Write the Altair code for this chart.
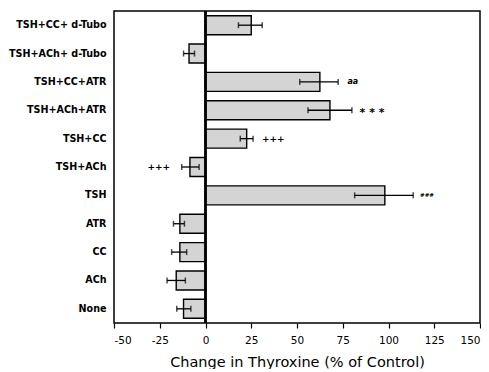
import altair as alt
import pandas as pd

categories = ["TSH+CC+ d-Tubo", "TSH+ACh+ d-Tubo", "TSH+CC+ATR", "TSH+ACh+ATR",
              "TSH+CC", "TSH+ACh", "TSH", "ATR", "CC", "ACh", "None"]
means = [25, -9, 62.5, 68, 22.5, -8.5, 98, -14, -14, -16, -12]
err_lo = [18, -12, 51.5, 56, 19, -13, 81.5, -17.5, -18.5, -21, -15.7]
err_hi = [31, -6, 72.5, 80, 26, -3.5, 113.5, -11.5, -10.3, -11, -8]

ann_cats = ["TSH+CC+ATR", "TSH+ACh+ATR", "TSH+CC", "TSH+ACh", "TSH"]
ann_x = [80.5, 91, 37, -25.5, 121]
ann_text = ["aa", "* * *", "+++", "+++", "###"]
ann_style = ["italic", "star", "plus", "plus", "hash"]

x_ticks = [-50, -25, 0, 25, 50, 75, 100, 125, 150]

df = pd.DataFrame({"cat": categories, "mean": means, "lo": err_lo, "hi": err_hi})
ann = pd.DataFrame({"cat": ann_cats, "x": ann_x, "text": ann_text, "style": ann_style})

FONT = "DejaVu Sans"

xscale = alt.Scale(domain=[-50, 150], nice=False, zero=False)
yscale = alt.Scale(domain=categories, paddingInner=0.33, paddingOuter=0.165)

xaxis = alt.Axis(values=x_ticks, title="Change in Thyroxine (% of Control)",
                 grid=False, domain=False, tickColor="black", tickSize=5, tickWidth=1.2,
                 labelFont=FONT, labelFontSize=10.5, labelColor="black", labelPadding=7,
                 labelExpr="'' + datum.value",
                 titleFont=FONT, titleFontSize=14.5, titleFontWeight="normal",
                 titleColor="black", titlePadding=10)
yaxis = alt.Axis(title=None, ticks=False, domain=False, grid=False,
                 labelFont=FONT, labelFontSize=9.6, labelFontWeight="bold", labelColor="black",
                 labelPadding=8, minExtent=106, maxExtent=106, labelLimit=200)

base = alt.Chart(df)

bars = base.mark_bar(fill="#d4d4d4", stroke="black", strokeWidth=1.4).encode(
    x=alt.X("mean:Q", scale=xscale, axis=xaxis),
    x2=alt.datum(0),
    y=alt.Y("cat:N", scale=yscale, axis=yaxis, sort=categories),
)

zero = base.mark_rule(color="black", strokeWidth=1.4).encode(x=alt.datum(0))

err_line = base.mark_rule(color="black", strokeWidth=1.3).encode(
    x="lo:Q", x2="hi:Q", y=alt.Y("cat:N", sort=categories)
)
cap_lo = base.mark_tick(color="black", size=6, thickness=1.5).encode(
    x="lo:Q", y=alt.Y("cat:N", sort=categories)
)
cap_hi = base.mark_tick(color="black", size=6, thickness=1.5).encode(
    x="hi:Q", y=alt.Y("cat:N", sort=categories)
)

abase = alt.Chart(ann)
t_plus = abase.transform_filter(alt.datum.style == "plus").mark_text(
    font=FONT, fontSize=9, fontWeight="bold", color="black", baseline="middle"
).encode(x="x:Q", y=alt.Y("cat:N", sort=categories), text="text:N")
t_star = abase.transform_filter(alt.datum.style == "star").mark_text(
    font=FONT, fontSize=11, fontWeight="bold", color="black", baseline="middle", dy=3
).encode(x="x:Q", y=alt.Y("cat:N", sort=categories), text="text:N")
t_ital = abase.transform_filter(alt.datum.style == "italic").mark_text(
    font=FONT, fontSize=8, fontWeight="bold", fontStyle="italic", color="black", baseline="middle"
).encode(x="x:Q", y=alt.Y("cat:N", sort=categories), text="text:N")
t_hash = abase.transform_filter(alt.datum.style == "hash").mark_text(
    font=FONT, fontSize=5.5, fontWeight="bold", color="black", baseline="middle"
).encode(x="x:Q", y=alt.Y("cat:N", sort=categories), text="text:N")

chart = alt.layer(bars, zero, err_line, cap_lo, cap_hi, t_plus, t_star, t_ital, t_hash).properties(
    width=366, height=312,
    padding={"left": 0, "top": 2, "right": 0, "bottom": 0},
    background="white",
).configure_view(stroke="black", strokeWidth=1.5)

chart.save("out.html", embed_options={"renderer": "svg", "actions": False})
